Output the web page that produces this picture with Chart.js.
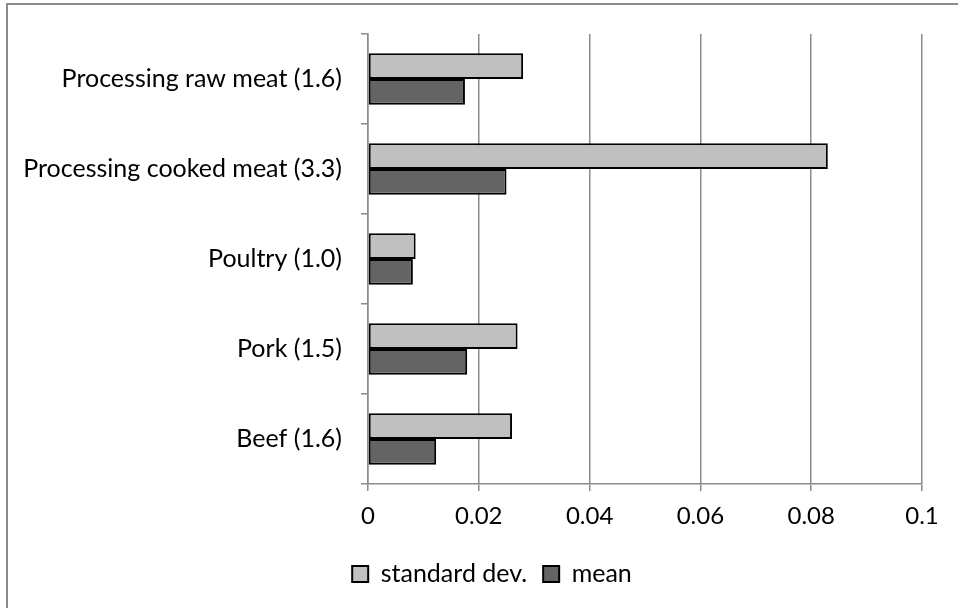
<!DOCTYPE html>
<html>
<head>
<meta charset="utf-8">
<script src="https://cdn.jsdelivr.net/npm/chart.js@4/dist/chart.umd.min.js"></script>
<style>
  body { margin: 0; background: #fff; }
  #wrap { position: relative; width: 958px; height: 608px; }
  #frame { position: absolute; left: 6px; top: 3px; right: -10px; bottom: -10px;
           border-left: 2px solid #8c8c8c; border-top: 2px solid #8c8c8c; }
  #chart1 { position: absolute; left: 0; top: 0; }
</style>
</head>
<body>
<div id="wrap">
  <div id="frame"></div>
  <canvas id="chart1" width="958" height="608"></canvas>
</div>
<script>
// data
var categories = ['Processing raw meat (1.6)', 'Processing cooked meat (3.3)', 'Poultry (1.0)', 'Pork (1.5)', 'Beef (1.6)'];
var stdDev = [0.028, 0.083, 0.0086, 0.027, 0.026];
var meanVals = [0.0175, 0.025, 0.0081, 0.0179, 0.0123];
var xTicks = [0, 0.02, 0.04, 0.06, 0.08, 0.1];

var fontLabel = { family: 'Lato', size: 25 };
var fontTick = { family: 'Lato', size: 24 };
var axisGray = '#8c8c8c';

// nudge the legend so it sits where the reference has it
var legendShift = {
    id: 'legendShift',
    afterLayout: function (chart) {
        chart.legend.left += 27;
        chart.legend.right += 27;
    }
};

var ctx1 = document.getElementById('chart1').getContext('2d');
var chart1 = new Chart(ctx1, {
    type: 'bar',
    data: {
        labels: categories,
        datasets: [{
            label: 'standard dev.',
            data: stdDev,
            backgroundColor: '#c0c0c0',
            borderColor: '#000',
            borderWidth: 2,
            borderSkipped: false
        }, {
            label: 'mean',
            data: meanVals,
            backgroundColor: '#646464',
            borderColor: '#000',
            borderWidth: 2,
            borderSkipped: false
        }]
    },
    options: {
        indexAxis: 'y', // horizontal bars
        responsive: false,
        animation: false,
        datasets: {
            bar: { categoryPercentage: 0.57, barPercentage: 1.0 }
        },
        layout: {
            padding: { left: 8, right: 36, top: 34, bottom: 11.5 }
        },
        scales: {
            x: {
                min: 0,
                max: 0.1,
                afterBuildTicks: function (scale) {
                    scale.ticks = xTicks.map(function (v) { return { value: v }; });
                },
                afterFit: function (scale) { scale.height = 61.5; },
                grid: { color: axisGray, lineWidth: 1.5, tickLength: 7 },
                border: { color: axisGray, width: 1.5 },
                ticks: {
                    color: '#000',
                    font: fontTick,
                    padding: 11,
                    maxRotation: 0,
                    callback: function (v) { return String(+Number(v).toFixed(2)); }
                }
            },
            y: {
                afterFit: function (scale) { scale.width = 360; },
                grid: { drawOnChartArea: false, color: axisGray, lineWidth: 1.5, tickLength: 7 },
                border: { color: axisGray, width: 1.5 },
                ticks: { color: '#000', font: fontLabel, padding: 19 }
            }
        },
        plugins: {
            legend: {
                position: 'bottom',
                labels: {
                    color: '#000',
                    font: fontLabel,
                    boxWidth: 16,
                    boxHeight: 16,
                    padding: 16
                }
            },
            tooltip: { enabled: false }
        }
    },
    plugins: [legendShift]
});
</script>
</body>
</html>
